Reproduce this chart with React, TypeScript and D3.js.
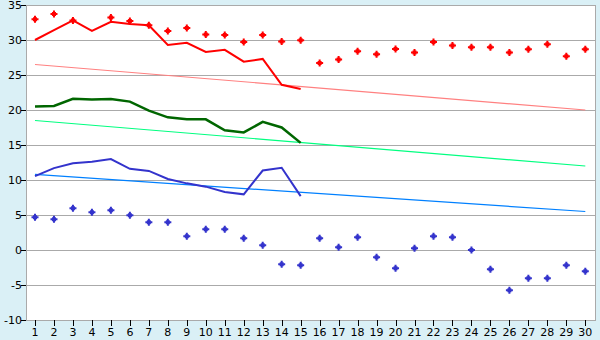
import React from "react";
import * as d3 from "d3";

const days = d3.range(1, 31);
const redLine = [30.0, 31.4, 32.8, 31.3, 32.6, 32.3, 32.1, 29.3, 29.6, 28.3, 28.6, 26.9, 27.3, 23.6, 23.0];
const redPoints: (number | null)[] = [32.95, 33.7, 32.8, null, 33.2, 32.7, 32.1, 31.3, 31.7, 30.8, 30.7, 29.7, 30.7, 29.8, 29.95, 26.7, 27.2, 28.4, 27.95, 28.7, 28.2, 29.7, 29.2, 28.95, 28.95, 28.2, 28.67, 29.4, 27.67, 28.67];
const redTrend = [26.5, 20.0];
const greenLine = [20.5, 20.57, 21.6, 21.5, 21.57, 21.2, 19.9, 18.95, 18.67, 18.67, 17.1, 16.8, 18.3, 17.5, 15.3];
const greenTrend = [18.5, 12.0];
const blueLine = [10.55, 11.7, 12.4, 12.6, 13.0, 11.6, 11.3, 10.14, 9.52, 9.05, 8.29, 7.95, 11.35, 11.75, 7.7];
const bluePoints = [4.67, 4.38, 5.95, 5.38, 5.67, 4.95, 3.95, 3.95, 1.95, 2.95, 2.95, 1.67, 0.67, -2.05, -2.19, 1.67, 0.38, 1.81, -1.05, -2.6, 0.24, 1.95, 1.81, 0.0, -2.76, -5.76, -4.05, -4.05, -2.19, -3.05];
const blueTrend = [10.8, 5.5];
const yTicks = [-10, -5, 0, 5, 10, 15, 20, 25, 30, 35];

const W = 600, H = 340;
const L = 26, R = 595, T = 5, B = 320;

const x = d3.scalePoint<number>().domain(days).range([35, 585.3]);
const y = d3.scaleLinear().domain([-10, 35]).range([B, T]);

const lineGen = d3.line<number>().x((_, i) => x(days[i])!).y((d) => y(d));

const marker = "M-1,-3.5H1V-2H2V-1H3.5V1H2V2H1V3.5H-1V2H-2V1H-3.5V-1H-2V-2H-1Z";

export default function App() {
  const trend = (t: number[], color: string) => (
    <line x1={x(1)} y1={y(t[0])} x2={x(30)} y2={y(t[1])} stroke={color} strokeWidth={1.2} />
  );
  return (
    <div style={{ position: "absolute", left: 0, top: 0 }}>
      <svg width={W} height={H} style={{ display: "block", fontFamily: "DejaVu Sans, Verdana, sans-serif" }}>
        <rect x={0} y={0} width={W} height={H} fill="#daf0f6" />
        <rect x={L} y={T} width={R - L} height={B - T} fill="#ffffff" />
        {yTicks.map((t) => (
          <g key={t}>
            <line x1={L} x2={R} y1={y(t) + 0.5} y2={y(t) + 0.5} stroke="#aaaaaa" strokeWidth={1} />
            <line x1={L - 5} x2={L} y1={y(t) + 0.5} y2={y(t) + 0.5} stroke="#000" strokeWidth={1} />
            <text x={L - 4} y={y(t) + 4} textAnchor="end" fontSize={11} fill="#000">{t}</text>
          </g>
        ))}
        <line x1={L + 0.5} x2={L + 0.5} y1={T} y2={B} stroke="#aaaaaa" />
        <line x1={R + 0.5} x2={R + 0.5} y1={T} y2={B + 1} stroke="#aaaaaa" />
        {days.map((d) => (
          <g key={d}>
            <line x1={Math.round(x(d)!) + 0.5} x2={Math.round(x(d)!) + 0.5} y1={B} y2={B + 6} stroke="#000" />
            <text x={x(d)} y={B + 16} textAnchor="middle" fontSize={11} fill="#000">{d}</text>
          </g>
        ))}
        {trend(redTrend, "#ff8080")}
        {trend(greenTrend, "#00ff80")}
        {trend(blueTrend, "#0080ff")}
        <path d={lineGen(redLine)!} fill="none" stroke="#ff0000" strokeWidth={2} />
        <path d={lineGen(greenLine)!} fill="none" stroke="#006600" strokeWidth={2.5} />
        <path d={lineGen(blueLine)!} fill="none" stroke="#3333cc" strokeWidth={2} />
        {redPoints.map((v, i) =>
          v == null ? null : (
            <path key={"r" + i} d={marker} transform={`translate(${x(days[i])},${y(v)})`} fill="#ff0000" />
          )
        )}
        {bluePoints.map((v, i) => (
          <path key={"b" + i} d={marker} transform={`translate(${x(days[i])},${y(v)})`} fill="#3333cc" />
        ))}
      </svg>
    </div>
  );
}
